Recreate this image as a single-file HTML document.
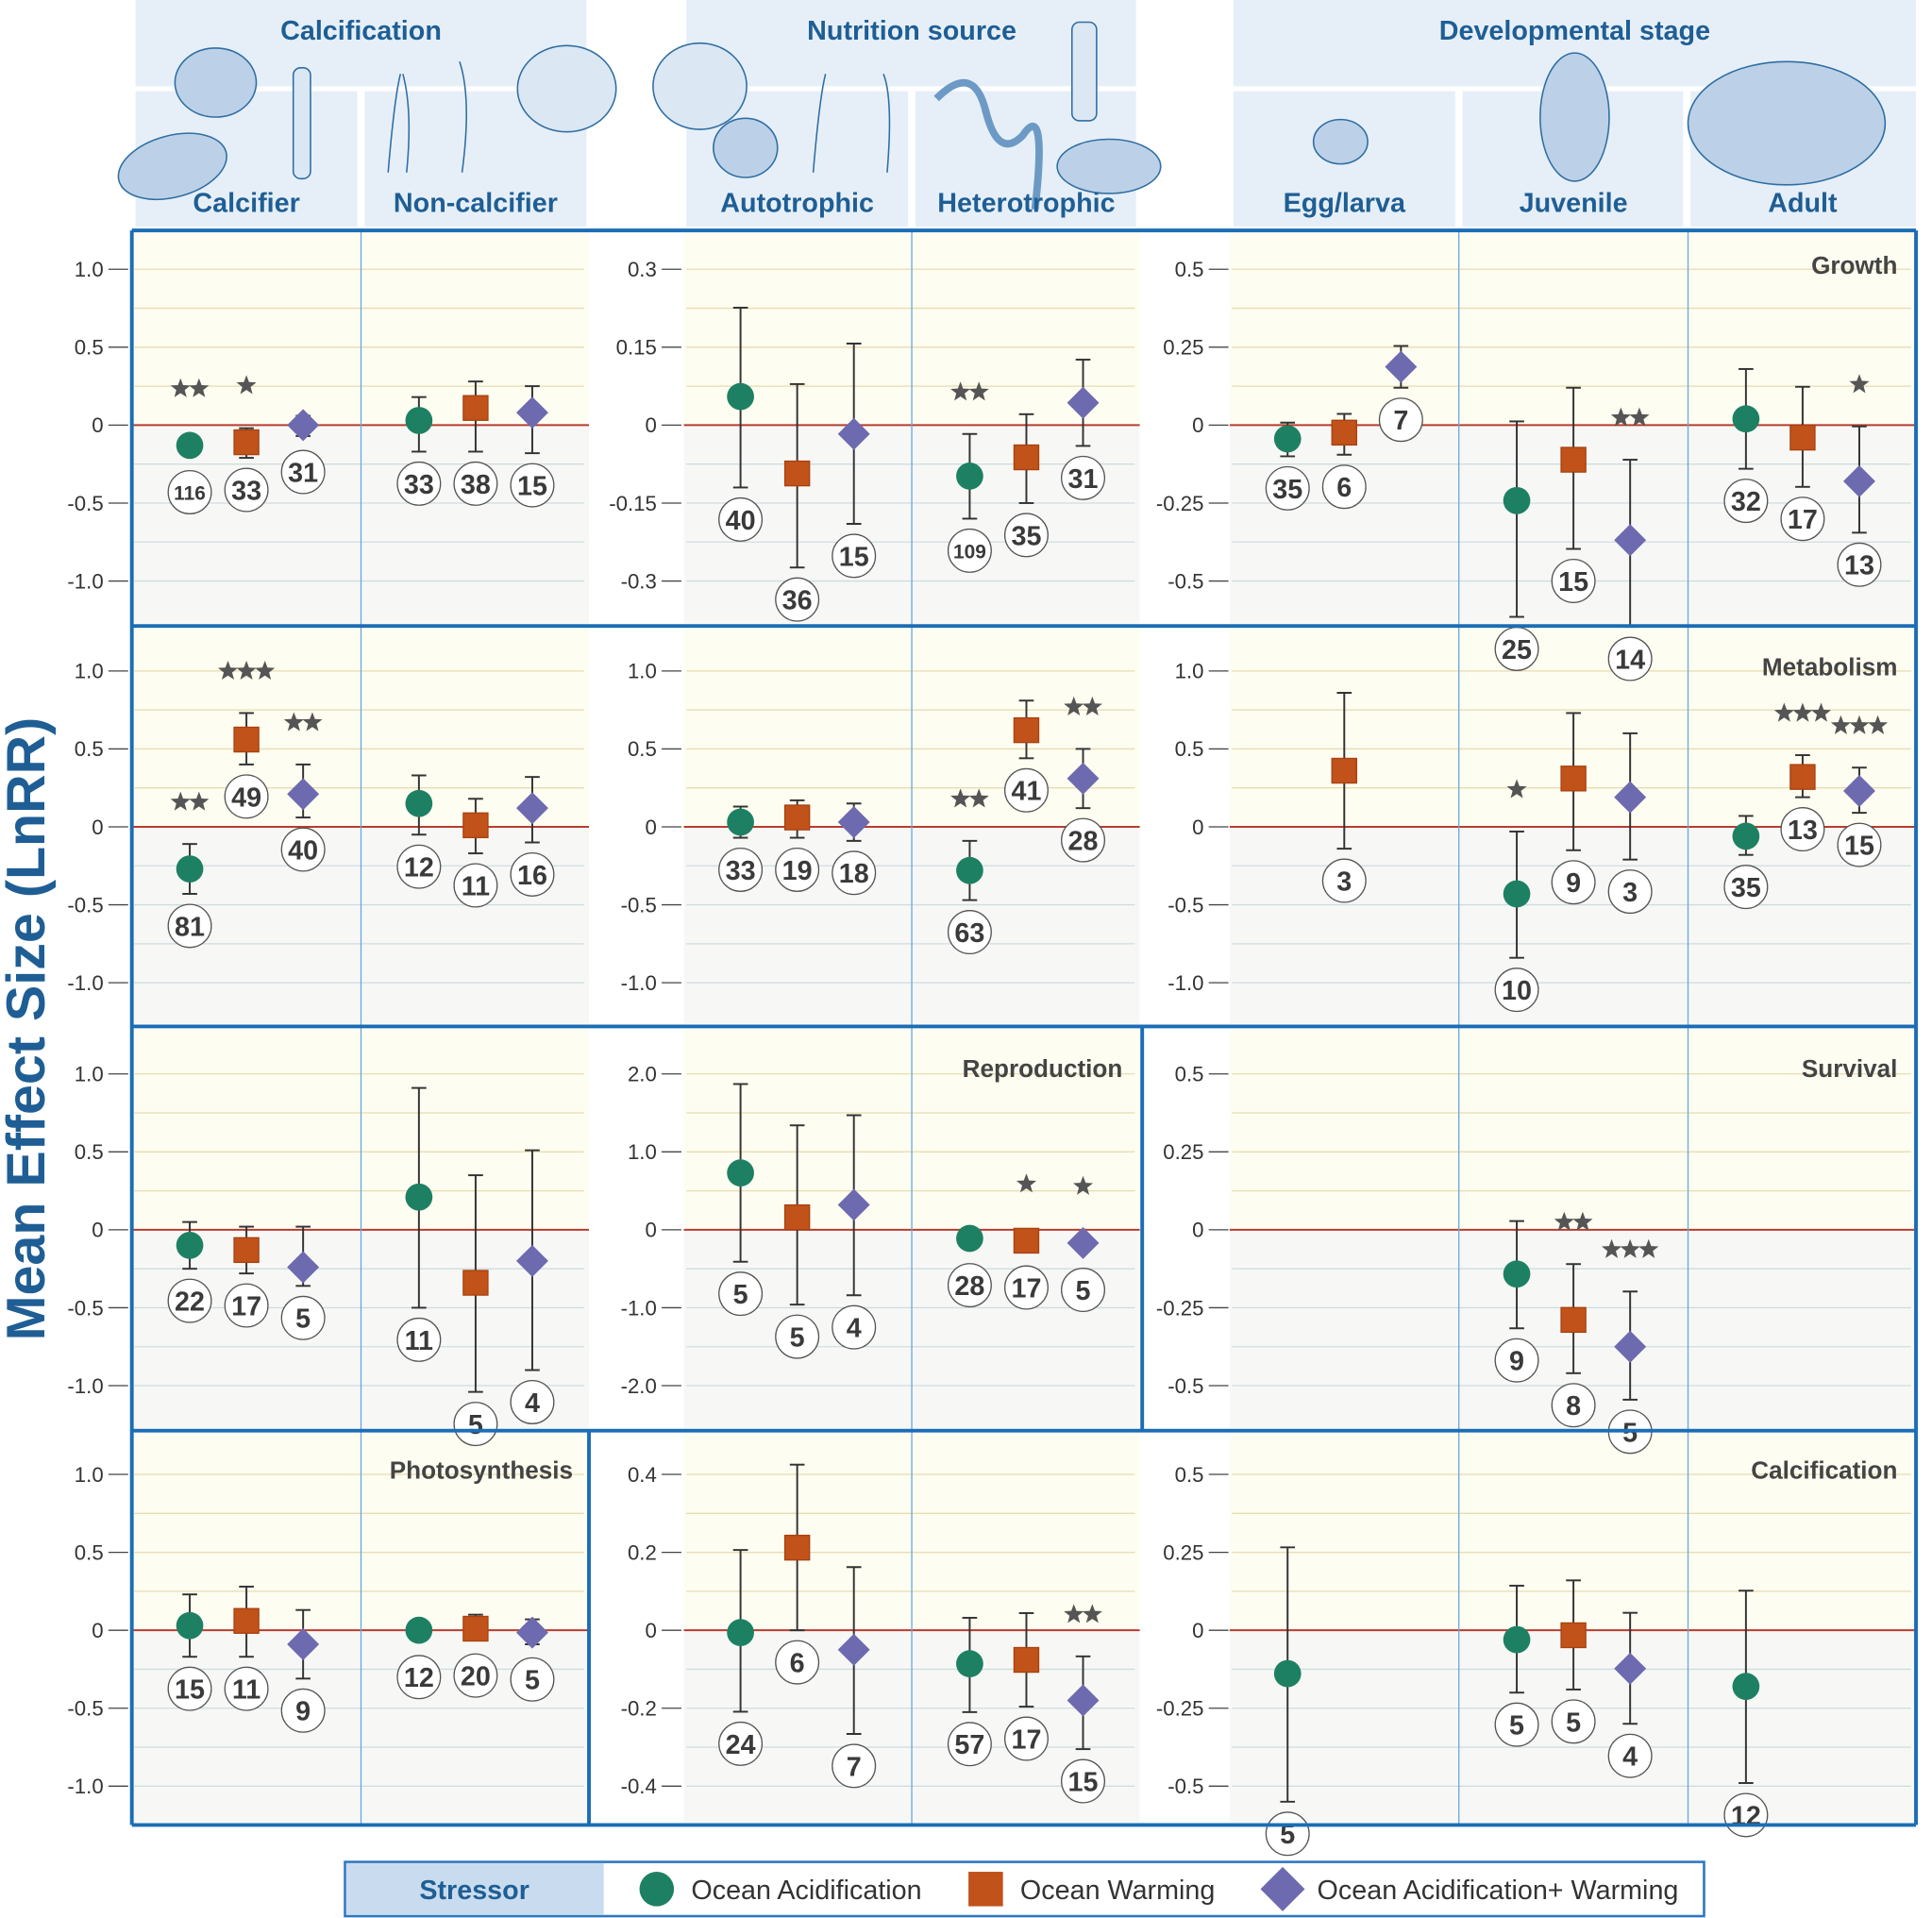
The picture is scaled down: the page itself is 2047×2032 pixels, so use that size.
<!DOCTYPE html>
<html><head><meta charset="utf-8"><style>
html,body{margin:0;padding:0;background:#fff}
svg{display:block}
text{font-family:"Liberation Sans",Arial,sans-serif}
</style></head><body>
<svg id="chart" width="2047" height="2032" viewBox="0 0 1568 1556.5" xmlns="http://www.w3.org/2000/svg">
<g id="header">
  <rect x="110" y="0" width="366" height="70" fill="#e6eff8"/>
  <rect x="110" y="74" width="180" height="110" fill="#e6eff8"/>
  <rect x="296" y="74" width="180" height="110" fill="#e6eff8"/>
  <rect x="557" y="0" width="365" height="70" fill="#e6eff8"/>
  <rect x="557" y="74" width="180" height="110" fill="#e6eff8"/>
  <rect x="743" y="74" width="179" height="110" fill="#e6eff8"/>
  <rect x="1001" y="0" width="554" height="70" fill="#e6eff8"/>
  <rect x="1001" y="74" width="180" height="110" fill="#e6eff8"/>
  <rect x="1187" y="74" width="179" height="110" fill="#e6eff8"/>
  <rect x="1372" y="74" width="183" height="110" fill="#e6eff8"/>
  <g fill="#bcd1e7" stroke="#2f6ea3" stroke-width="1.2">
    <ellipse cx="175" cy="67" rx="33" ry="28"/>
    <ellipse cx="140" cy="135" rx="45" ry="25" transform="rotate(-15 140 135)"/>
    <rect x="238" y="55" width="14" height="90" rx="6" fill="#dbe7f3"/>
    <path d="M315 140 q5 -60 10 -80 M330 140 q5 -50 -3 -80 M375 140 q8 -60 -2 -90" fill="none"/>
    <ellipse cx="460" cy="72" rx="40" ry="35" fill="#dbe7f3"/>
    <ellipse cx="568" cy="70" rx="38" ry="35" fill="#dbe7f3"/>
    <ellipse cx="605" cy="120" rx="26" ry="24"/>
    <path d="M660 140 q5 -60 10 -80 M720 140 q5 -60 -3 -80" fill="none"/>
    <path d="M760 80 q30 -30 40 10 q10 40 30 20 q20 -30 10 60" fill="none" stroke-width="6" stroke="#6d9ac5"/>
    <rect x="870" y="18" width="20" height="80" rx="6" fill="#dbe7f3"/>
    <ellipse cx="900" cy="135" rx="42" ry="22"/>
    <ellipse cx="1088" cy="115" rx="22" ry="18"/>
    <ellipse cx="1278" cy="95" rx="28" ry="52"/>
    <ellipse cx="1450" cy="100" rx="80" ry="50"/>
  </g>
  <g font-weight="bold" fill="#1f5e94" font-size="22" text-anchor="middle">
    <text x="293" y="32">Calcification</text>
    <text x="740" y="32">Nutrition source</text>
    <text x="1278" y="32">Developmental stage</text>
    <text x="200" y="172">Calcifier</text>
    <text x="386" y="172">Non-calcifier</text>
    <text x="647" y="172">Autotrophic</text>
    <text x="833" y="172">Heterotrophic</text>
    <text x="1091" y="172">Egg/larva</text>
    <text x="1277" y="172">Juvenile</text>
    <text x="1463" y="172">Adult</text>
  </g>
</g>
<g id="plots"></g>
<g id="frame"></g>
<text x="0" y="0" transform="translate(36 835) rotate(-90)" text-anchor="middle" font-size="44" font-weight="bold" fill="#1f5e94">Mean Effect Size (LnRR)</text>
<g id="legend">
  <rect x="280" y="1511" width="1103" height="44" fill="#fff" stroke="#2f78bf" stroke-width="2"/>
  <rect x="281" y="1512" width="209" height="42" fill="#c9dcef"/>
  <text x="385" y="1541" text-anchor="middle" font-size="22" font-weight="bold" fill="#1f5e94">Stressor</text>
  <g><circle cx="533" cy="1533" r="14" fill="#1e8063"/><text x="561" y="1541" font-size="22" fill="#333">Ocean Acidification</text></g>
  <g><rect x="786" y="1519" width="28" height="28" fill="#c0521a"/><text x="828" y="1541" font-size="22" fill="#333">Ocean Warming</text></g>
  <g><path d="M1041 1515 L1059 1533 L1041 1551 L1023 1533 Z" fill="#6e6ab0"/><text x="1069" y="1541" font-size="22" fill="#333">Ocean Acidification+ Warming</text></g>
</g>
</svg>
<script>
// Axis ticks per row (0..3) and group (A,B,C)
const tickA = [["1.0","0.5","0","-0.5","-1.0"],["1.0","0.5","0","-0.5","-1.0"],["1.0","0.5","0","-0.5","-1.0"],["1.0","0.5","0","-0.5","-1.0"]];
const tickB = [["0.3","0.15","0","-0.15","-0.3"],["1.0","0.5","0","-0.5","-1.0"],["2.0","1.0","0","-1.0","-2.0"],["0.4","0.2","0","-0.2","-0.4"]];
const tickC = [["0.5","0.25","0","-0.25","-0.5"],["1.0","0.5","0","-0.5","-1.0"],["0.5","0.25","0","-0.25","-0.5"],["0.5","0.25","0","-0.25","-0.5"]];
const panelTitles = ["Growth","Metabolism","Reproduction","Survival","Photosynthesis","Calcification"];
// point data: row, subcolumn (0=Calcifier..6=Adult), series (0 OA,1 OW,2 OA+W)
const pointRow =    [0,0,0,0,0,0, 0,0,0,0,0,0, 0,0,0,0,0,0,0,0,0, 1,1,1,1,1,1, 1,1,1,1,1,1, 1,1,1,1,1,1,1, 2,2,2,2,2,2, 2,2,2,2,2,2, 2,2,2, 3,3,3,3,3,3, 3,3,3,3,3,3, 3,3,3,3,3];
const pointCol =    [0,0,0,1,1,1, 2,2,2,3,3,3, 4,4,4,5,5,5,6,6,6, 0,0,0,1,1,1, 2,2,2,3,3,3, 4,5,5,5,6,6,6, 0,0,0,1,1,1, 2,2,2,3,3,3, 5,5,5, 0,0,0,1,1,1, 2,2,2,3,3,3, 4,5,5,5,6];
const pointSeries = [0,1,2,0,1,2, 0,1,2,0,1,2, 0,1,2,0,1,2,0,1,2, 0,1,2,0,1,2, 0,1,2,0,1,2, 1,0,1,2,0,1,2, 0,1,2,0,1,2, 0,1,2,0,1,2, 0,1,2, 0,1,2,0,1,2, 0,1,2,0,1,2, 0,0,1,2,0];
const pointMean = [-0.13,-0.11,0.0,0.03,0.11,0.08, 0.055,-0.093,-0.017,-0.098,-0.062,0.043, -0.044,-0.024,0.187,-0.242,-0.111,-0.369,0.02,-0.04,-0.18,
  -0.27,0.56,0.21,0.15,0.01,0.12, 0.03,0.06,0.03,-0.28,0.62,0.31, 0.36,-0.43,0.31,0.19,-0.06,0.32,0.23,
  -0.10,-0.13,-0.24,0.21,-0.34,-0.20, 0.73,0.16,0.32,-0.11,-0.14,-0.17, -0.142,-0.289,-0.375,
  0.03,0.06,-0.09,0.0,0.01,-0.015, -0.006,0.212,-0.05,-0.086,-0.076,-0.18, -0.139,-0.03,-0.016,-0.123,-0.18];
const pointLow = [-0.13,-0.21,-0.07,-0.17,-0.17,-0.18, -0.12,-0.274,-0.19,-0.18,-0.15,-0.04, -0.1,-0.095,0.12,-0.615,-0.397,-0.647,-0.14,-0.198,-0.345,
  -0.43,0.40,0.06,-0.05,-0.17,-0.10, -0.07,-0.07,-0.09,-0.47,0.44,0.12, -0.14,-0.84,-0.15,-0.21,-0.18,0.19,0.09,
  -0.25,-0.28,-0.36,-0.50,-1.04,-0.90, -0.41,-0.96,-0.84,-0.11,-0.2,-0.23, -0.316,-0.46,-0.545,
  -0.17,-0.17,-0.31,0.0,-0.06,-0.09, -0.209,0.0,-0.266,-0.21,-0.196,-0.305, -0.55,-0.2,-0.19,-0.30,-0.49];
const pointHigh = [-0.13,-0.02,0.06,0.18,0.28,0.25, 0.226,0.079,0.157,-0.017,0.021,0.126, 0.008,0.036,0.254,0.012,0.12,-0.111,0.18,0.123,-0.004,
  -0.11,0.73,0.40,0.33,0.18,0.32, 0.13,0.17,0.15,-0.09,0.81,0.50, 0.86,-0.03,0.73,0.60,0.07,0.46,0.38,
  0.05,0.02,0.02,0.91,0.35,0.51, 1.87,1.34,1.47,-0.11,-0.08,-0.11, 0.028,-0.11,-0.198,
  0.23,0.28,0.13,0.0,0.10,0.07, 0.206,0.425,0.162,0.032,0.044,-0.067, 0.266,0.143,0.16,0.056,0.127];
const pointN = [116,33,31,33,38,15, 40,36,15,109,35,31, 35,6,7,25,15,14,32,17,13,
  81,49,40,12,11,16, 33,19,18,63,41,28, 3,10,9,3,35,13,15,
  22,17,5,11,5,4, 5,5,4,28,17,5, 9,8,5,
  15,11,9,12,20,5, 24,6,7,57,17,15, 5,5,5,4,12];
const pointStars = [2,1,0,0,0,0, 0,0,0,2,0,0, 0,0,0,0,0,2,0,0,1,
  2,3,2,0,0,0, 0,0,0,2,0,2, 0,1,0,0,0,3,3,
  0,0,0,0,0,0, 0,0,0,0,1,1, 0,2,3,
  0,0,0,0,0,0, 0,0,0,0,0,2, 0,0,0,0,0];

const NS = "http://www.w3.org/2000/svg";
const plots = document.getElementById('plots');
const frame = document.getElementById('frame');
function mk(tag, attrs, parent){const e=document.createElementNS(NS,tag);for(const k in attrs)e.setAttribute(k,attrs[k]);(parent||plots).appendChild(e);return e;}

const rowTop = [187,508,833,1161], rowBot = [508,833,1161,1481];
const zeroY = [345,671,998,1323];
const tickHalf = 126.5;
const groups = [{x0:107,x1:478,tickX:104,ticks:tickA},{x0:555,x1:925,tickX:553,ticks:tickB},{x0:998,x1:1555,tickX:997,ticks:tickC}];
const colX = [154,340, 601,787, 1045,1231,1417];
const colGroup = [0,0,1,1,2,2,2];
const seriesOffset = [0,46,92];
const colors = ["#1e8063","#c0521a","#6e6ab0"];
function yScale(row, g, v){ const maxT = parseFloat(groups[g].ticks[row][0]); return zeroY[row] - v/maxT*tickHalf; }

for(let r=0;r<4;r++){
  groups.forEach((g,gi)=>{
    const bgTop=mk('rect',{x:g.x0,y:rowTop[r]+2,width:g.x1-g.x0,height:zeroY[r]-rowTop[r]-2,fill:'#fdfdf1'});
    
    
    const bgBot=mk('rect',{x:g.x0,y:zeroY[r],width:g.x1-g.x0,height:rowBot[r]-zeroY[r]-2,fill:'#f7f8f6'});
    
    
    for(let k=-4;k<=4;k++){
      if(k===0)continue;
      const y=zeroY[r]-k*tickHalf/4;
      const gl=mk('line',{x1:g.x0+2,x2:g.x1-4,y1:y,y2:y,stroke:k>0?'#e8dcb0':'#cfdcdf','stroke-width':1});
      
      
    }
    g.ticks[r].forEach((t,i)=>{
      const v=parseFloat(t);
      const y=yScale(r,gi,v);
      const tl=mk('line',{x1:g.tickX-16,x2:g.tickX,y1:y,y2:y,stroke:'#444','stroke-width':1});
      
      
      const tx=mk('text',{x:g.tickX-20,y:y+6,'text-anchor':'end','font-size':17,fill:'#333'});
      tx.textContent=t;
      
      
    });
    const zl=mk('line',{x1:g.x0,x2:g.x1,y1:zeroY[r],y2:zeroY[r],stroke:'#b83c30','stroke-width':1.5});
    
    
  });
  [293,740,1184,1370].forEach(x=>{
    const d=mk('line',{x1:x,x2:x,y1:rowTop[r],y2:rowBot[r],stroke:'#6aa6dc','stroke-width':1});
    
    
  });
}
const titlePos=[[1540,222],[1540,548],[911,874],[1540,874],[465,1200],[1540,1200]];
panelTitles.forEach((t,i)=>{
  const e=mk('text',{x:titlePos[i][0],y:titlePos[i][1],'text-anchor':'end','font-size':20,'font-weight':'bold',fill:'#444'});
  e.textContent=t;
  
  
});

function starPath(cx,cy,R){let d='';for(let i=0;i<10;i++){const a=-Math.PI/2+i*Math.PI/5;const rr=i%2?R*0.42:R;d+=(i?'L':'M')+(cx+rr*Math.cos(a)).toFixed(2)+' '+(cy+rr*Math.sin(a)).toFixed(2);}return d+'Z';}

for(let i=0;i<pointMean.length;i++){
  const r=pointRow[i], c=pointCol[i], s=pointSeries[i], gi=colGroup[c];
  const x=colX[c]+seriesOffset[s];
  const ym=yScale(r,gi,pointMean[i]), yl=yScale(r,gi,pointLow[i]), yh=yScale(r,gi,pointHigh[i]);
  const g=mk('g',{});
  
  
  if(Math.abs(yl-yh)>2){
    mk('line',{x1:x,x2:x,y1:yh,y2:yl,stroke:'#333','stroke-width':1.5},g);
    mk('line',{x1:x-6,x2:x+6,y1:yh,y2:yh,stroke:'#333','stroke-width':1.5},g);
    mk('line',{x1:x-6,x2:x+6,y1:yl,y2:yl,stroke:'#333','stroke-width':1.5},g);
  }
  if(s===0) mk('circle',{cx:x,cy:ym,r:11,fill:colors[0]},g);
  else if(s===1) mk('rect',{x:x-10,y:ym-10,width:20,height:20,fill:colors[1],stroke:'#a8410f','stroke-width':1},g);
  else mk('path',{d:`M${x} ${ym-13}L${x+13} ${ym}L${x} ${ym+13}L${x-13} ${ym}Z`,fill:colors[2]},g);
  const ly=Math.max(yl,ym+12)+26;
  mk('circle',{cx:x,cy:ly,r:17.5,fill:'#fff',stroke:'#555','stroke-width':1},g);
  const nt=mk('text',{x:x,y:ly+(pointN[i]>99?6:8),'text-anchor':'middle','font-size':pointN[i]>99?16:22,'font-weight':'bold',fill:'#3a3a3a'},g);
  nt.textContent=pointN[i];
  
  
  const ns=pointStars[i];
  if(ns>0){
    const sy=Math.min(yh,ym-12)-34;
    for(let k=0;k<ns;k++){
      const st=mk('path',{d:starPath(x+(k-(ns-1)/2)*15,sy,8.5),fill:'#555'},g);
      
      
    }
  }
}
const B='#1b6db5';
[[107,187,1555,187],[107,508,1555,508],[107,833,1555,833],[107,1161,1555,1161],[107,1481,1555,1481],[107,187,107,1481],[1555,187,1555,1481],[927,833,927,1161],[478,1161,478,1481]].forEach(l=>{
  const e=mk('line',{x1:l[0],y1:l[1],x2:l[2],y2:l[3],stroke:B,'stroke-width':3},frame);
  
  
});
</script>
</body></html>
